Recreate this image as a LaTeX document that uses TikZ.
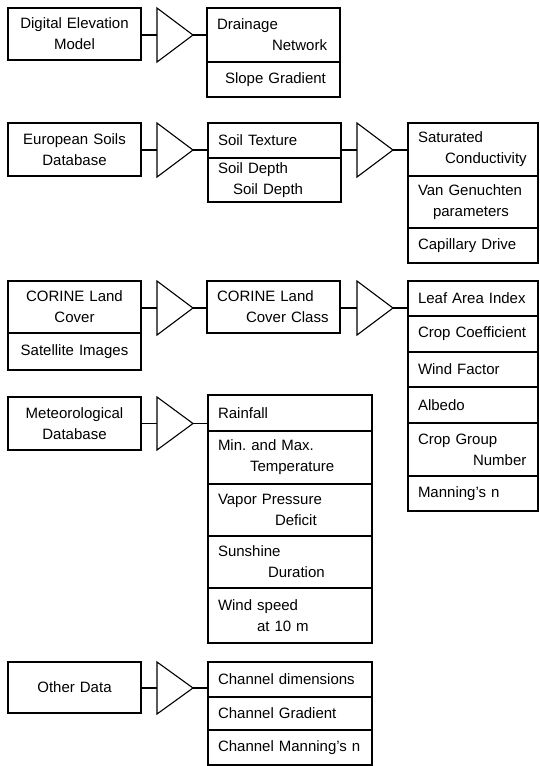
\documentclass[tikz,border=0pt]{standalone}
\usepackage{fontspec}
\setmainfont{Liberation Sans}
\usetikzlibrary{positioning}

\begin{document}
\begin{tikzpicture}[x=1pt, y=-1pt,
    databox/.style={draw, line width=1.1pt, rectangle, outer sep=0pt, inner ysep=0pt,
        inner xsep=10pt, anchor=north west, align=left,
        font=\fontsize{15}{21}\selectfont, execute at begin node={\hyphenpenalty=10000 }},
    srcbox/.style={databox, text width=113pt, align=center},
    midbox/.style={databox, text width=113pt},
    metbox/.style={databox, text width=144pt},
    outbox/.style={databox, text width=110pt},
    funnel/.style={line width=1.1pt, line join=miter},
    link/.style={line width=1.1pt}]
    \useasboundingbox (0,0) rectangle (539,766);

    % Funnels
    \foreach \n/\x/\t/\b in {f1/157/8/62, f2/157/123/177, f3/357/123/177, f4/157/281/335,
                             f5/357/281/335, f6/157/397/450, f7/157/662/714} {
        \draw[funnel] (\x,\t) -- (\x+36,{(\t+\b)/2}) -- (\x,\b) -- cycle;
        \coordinate (\n in) at (\x,{(\t+\b)/2});
        \coordinate (\n tip) at (\x+36,{(\t+\b)/2});
    }

    % Digital elevation model
    \node[srcbox, minimum height=52pt] (dem) at (8,8) {Digital Elevation\\Model};
    \node[midbox, minimum height=54pt] (drain) at (207,8) {Drainage\\\hspace*{55pt}Network};
    \node[midbox, minimum height=35pt, below=0pt of drain] (slope) {\hspace*{8pt}Slope Gradient};

    % Soils
    \node[srcbox, minimum height=53pt] (eusoil) at (8,123) {European Soils\\Database};
    \node[midbox, minimum height=35pt] (texture) at (208,123) {Soil Texture};
    \node[midbox, minimum height=44pt, below=0pt of texture] (depth) {Soil Depth\\\hspace*{15pt}Soil Depth};
    \node[outbox, minimum height=53pt] (satcond) at (408,123) {Saturated\\\hspace*{27pt}\mbox{Conductivity}};
    \node[outbox, minimum height=52pt, below=0pt of satcond] (vangen) {Van Genuchten\\\hspace*{15pt}parameters};
    \node[outbox, minimum height=35pt, below=0pt of vangen] (capdrive) {Capillary Drive};

    % Land cover
    \node[srcbox, minimum height=52pt] (corine) at (8,281) {CORINE Land\\Cover};
    \node[srcbox, minimum height=37pt, below=0pt of corine] (satimg) {Satellite Images};
    \node[midbox, minimum height=52pt] (class) at (207,281) {CORINE Land\\\hspace*{29pt}Cover Class};
    \node[outbox, minimum height=35pt] (lai) at (408,281) {Leaf Area Index};
    \node[outbox, minimum height=36pt, below=0pt of lai] (cropcoef) {Crop Coefficient};
    \node[outbox, minimum height=35pt, below=0pt of cropcoef] (windfac) {Wind Factor};
    \node[outbox, minimum height=36pt, below=0pt of windfac] (albedo) {Albedo};
    \node[outbox, minimum height=53pt, below=0pt of albedo] (cropgroup) {Crop Group\\\hspace*{55pt}\mbox{Number}};
    \node[outbox, minimum height=35pt, below=0pt of cropgroup] (manning) {Manning's n};

    % Meteorology
    \node[srcbox, minimum height=53pt] (meteo) at (8,397) {Meteorological\\Database};
    \node[metbox, minimum height=36pt] (rain) at (208,395) {Rainfall};
    \node[metbox, minimum height=53pt, below=0pt of rain] (minmax) {Min.\ and Max.\\\hspace*{32pt}Temperature};
    \node[metbox, minimum height=52pt, below=0pt of minmax] (vapor) {Vapor Pressure\\\hspace*{57pt}Deficit};
    \node[metbox, minimum height=52pt, below=0pt of vapor] (sunshine) {Sunshine\\\hspace*{50pt}Duration};
    \node[metbox, minimum height=55pt, below=0pt of sunshine] (windspd) {Wind speed\\\hspace*{39pt}at 10 m};

    % Other data
    \node[srcbox, minimum height=51pt] (other) at (8,662) {Other Data};
    \node[metbox, minimum height=35pt] (chdim) at (208,662) {Channel dimensions};
    \node[metbox, minimum height=33pt, below=0pt of chdim] (chgrad) {Channel Gradient};
    \node[metbox, minimum height=35pt, below=0pt of chgrad] (chman) {Channel Manning's n};

    % Links
    \draw[link] (dem.east |- f1in) -- (f1in);
    \draw[link] (f1tip) -- (drain.west |- f1tip);
    \draw[link] (eusoil.east |- f2in) -- (f2in);
    \draw[link] (f2tip) -- (texture.west |- f2tip);
    \draw[link] (texture.east |- f3in) -- (f3in);
    \draw[link] (f3tip) -- (satcond.west |- f3tip);
    \draw[link] (corine.east |- f4in) -- (f4in);
    \draw[link] (f4tip) -- (class.west |- f4tip);
    \draw[link] (class.east |- f5in) -- (f5in);
    \draw[link] (f5tip) -- (lai.west |- f5tip);
    \draw[link] (meteo.east |- f6in) -- (f6in);
    \draw[link] (f6tip) -- (rain.west |- f6tip);
    \draw[link] (other.east |- f7in) -- (f7in);
    \draw[link] (f7tip) -- (chdim.west |- f7tip);
\end{tikzpicture}
\end{document}
